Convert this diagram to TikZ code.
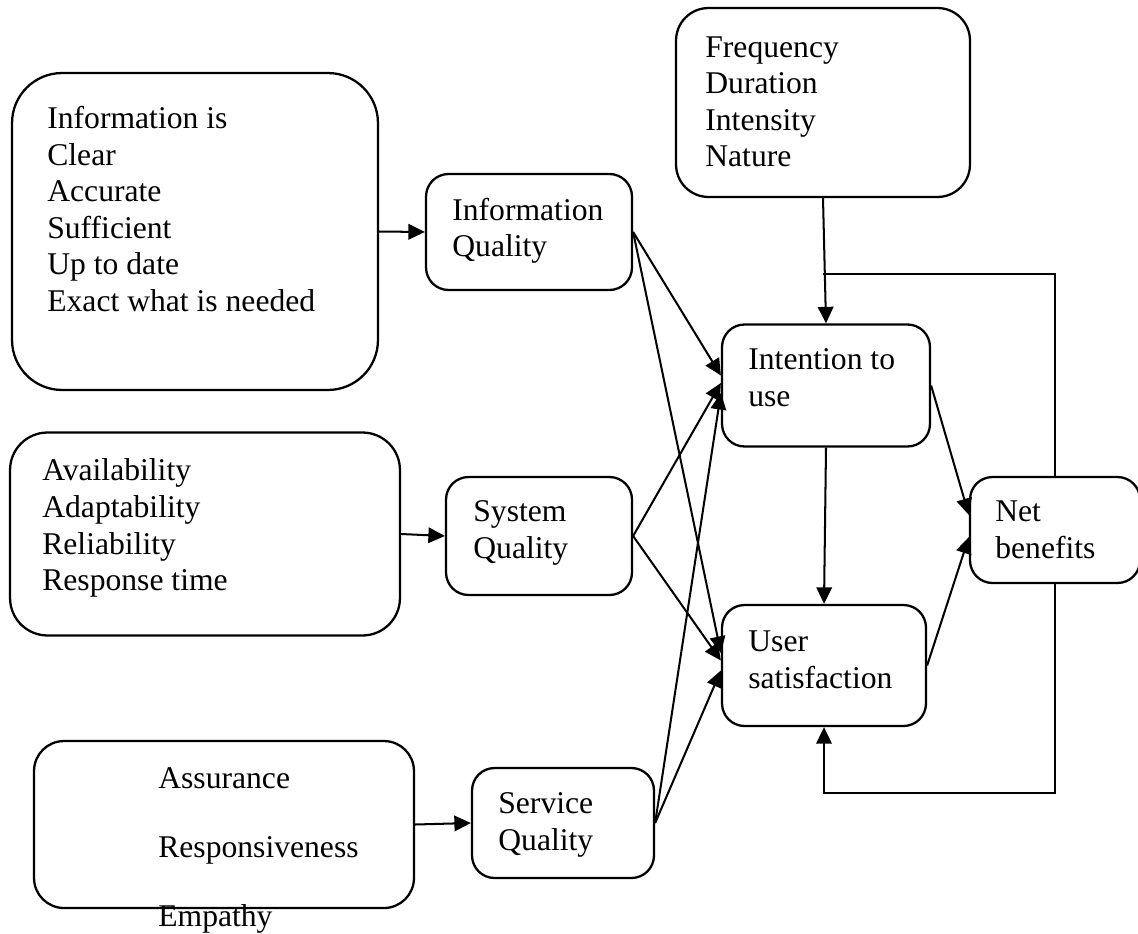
\documentclass[tikz,border=0pt]{standalone}
\usepackage{fontspec}
\setmainfont{Liberation Serif}
\usetikzlibrary{arrows.meta}

\begin{document}
\begin{tikzpicture}[x=0.02cm, y=-0.02cm,
  box/.style={draw, line width=1.3pt, rounded corners=0.45cm, inner sep=0pt},
  txt/.style={anchor=north west, align=left, inner sep=0pt, font=\fontsize{18}{20.8}\selectfont},
  arr/.style={line width=1.15pt, -{Triangle[length=0.33cm, width=0.31cm]}}]
\useasboundingbox (0,0) rectangle (1138,933);

% left column
\node[box, rounded corners=1cm, minimum width=7.32cm, minimum height=6.34cm] (info) at (195,231.5) {};
\node[txt] (infotxt) at (47,102.6) {\strut Information is\\Clear\\Accurate\\Sufficient\\Up to date\\Exact what is needed};
\node[box, rounded corners=0.75cm, minimum width=7.8cm, minimum height=4.06cm] (avail) at (205,534) {};
\node[txt] (availtxt) at (42,455) {\strut Availability\\Adaptability\\Reliability\\Response time};
\node[box, rounded corners=0.6cm, minimum width=7.6cm, minimum height=3.34cm] (serv) at (224,824.5) {};
\node[txt] (servtxt) at (158,763) {\strut Assurance\\[18.3pt]Responsiveness\\[18.3pt]Empathy};

% quality boxes
\node[box, minimum width=4.12cm, minimum height=2.32cm] (infoq) at (529,232) {};
\node[txt] (infoqtxt) at (452,194.3) {\strut Information\\Quality};
\node[box, minimum width=3.72cm, minimum height=2.36cm] (sysq) at (539,536) {};
\node[txt] (sysqtxt) at (473,496) {\strut System\\Quality};
\node[box, minimum width=3.64cm, minimum height=2.2cm] (servq) at (563,823) {};
\node[txt] (servqtxt) at (498,788) {\strut Service\\Quality};

% use, satisfaction, benefits
\node[box, rounded corners=0.65cm, minimum width=5.88cm, minimum height=3.78cm] (freq) at (823,102.5) {};
\node[txt] (freqtxt) at (705,31.3) {\strut Frequency\\Duration\\Intensity\\Nature};
\node[box, minimum width=4.16cm, minimum height=2.44cm] (intent) at (826,385.5) {};
\node[txt] (intenttxt) at (748,344) {\strut Intention to\\use};
\node[box, minimum width=4.08cm, minimum height=2.42cm] (user) at (824,665.5) {};
\node[txt] (usertxt) at (748,626) {\strut User\\satisfaction};
\node[box, minimum width=3.4cm, minimum height=2.12cm] (net) at (1055,530) {};
\node[txt] (nettxt) at (995,496) {\strut Net\\benefits};

\draw[arr] (info.east) -- (infoq.west);
\draw[arr] (avail.east) -- (sysq.west);
\draw[arr] (serv.east) -- (servq.west);

\draw[arr] (infoq.east) -- ([yshift=0.2cm]intent.west);
\draw[arr] (infoq.east) -- ([yshift=0.25cm]user.west);
\draw[arr] (sysq.east) -- ([yshift=0.05cm]intent.west);
\draw[arr] (sysq.east) -- ([yshift=0.1cm]user.west);
\draw[arr] (servq.east) -- ([yshift=-0.15cm]intent.west);
\draw[arr] (servq.east) -- ([yshift=-0.1cm]user.west);

\draw[arr] (freq.south) -- (intent.north);
\draw[arr] (intent.south) -- (user.north);
\draw[arr] (intent.east) -- ([yshift=0.3cm]net.west);
\draw[arr] (user.east) -- ([yshift=-0.14cm]net.west);

% feedback
\coordinate (fbtop) at (823,274);
\coordinate (fbbot) at (1055,793);
\draw[line width=1.15pt] (net.north) |- (fbtop);
\draw[arr] (net.south) -- (fbbot) -| (user.south);
\end{tikzpicture}
\end{document}
